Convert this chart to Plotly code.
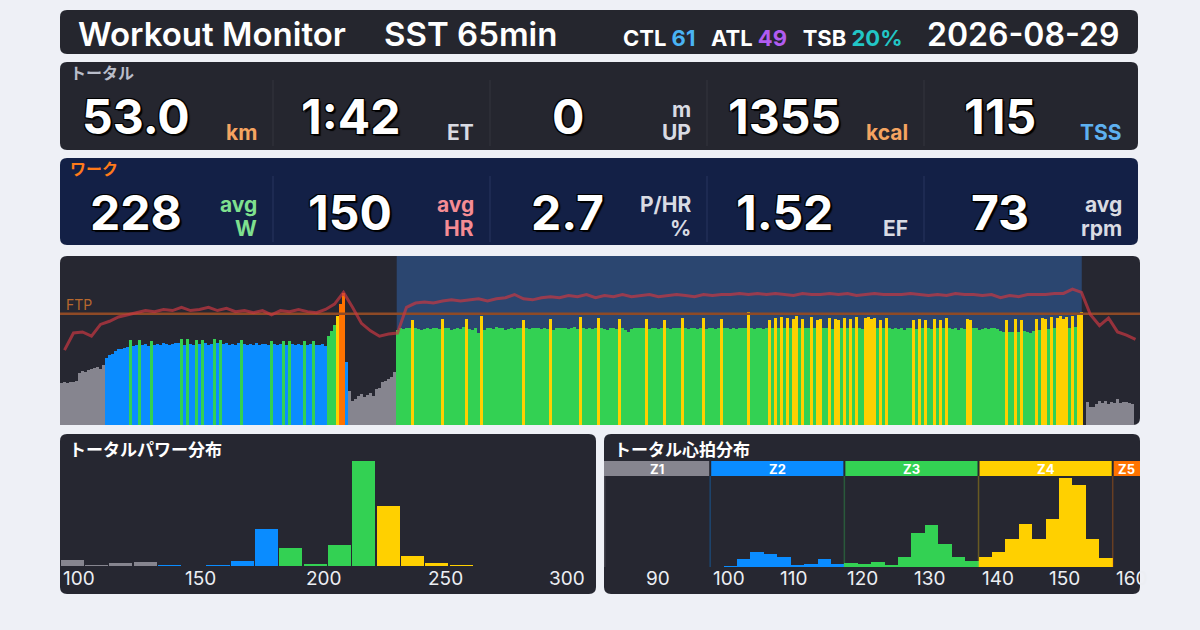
import numpy as np
import plotly.graph_objects as go

W, H = 1200, 630

# ---- header / summary numbers ----
title_left = "Workout Monitor"
title_right = "SST 65min"
ride_date = "2026-08-29"
ctl, atl, tsb = "61", "49", "20%"

total_values = ["53.0", "1:42", "0", "1355", "115"]
total_units_top = ["", "", "m", "", ""]
total_units_bottom = ["km", "ET", "UP", "kcal", "TSS"]
total_unit_colors = ["#f5a461", "#d9dbe3", "#d9dbe3", "#f5a461", "#5eb0f0"]

work_values = ["228", "150", "2.7", "1.52", "73"]
work_units_top = ["avg", "avg", "P/HR", "", "avg"]
work_units_bottom = ["W", "HR", "%", "EF", "rpm"]
work_unit_colors = ["#7fe08f", "#f58c94", "#d9dbe3", "#d9dbe3", "#d9dbe3"]

# ---- zones ----
zone_colors = ["#86858f", "#0a8cff", "#33d153", "#ffd000", "#ff7300"]
zone_names = ["Z1", "Z2", "Z3", "Z4", "Z5"]
power_zone_edges = [140, 188, 226, 263]
hr_zone_edges = [100, 120, 140, 160]
ftp = 250

# ---- power stream (W), one value per 17 s ----
power_warmup = [95, 96, 94, 97, 96, 99, 118, 121, 119, 123, 126, 128, 131, 127, 136]
power_z2 = [150, 158, 160, 166, 170, 172, 174, 176, 192, 178,
            180, 191, 179, 182, 178, 190, 181, 183, 180, 184,
            182, 179, 183, 184, 184, 193, 181, 194, 183, 180,
            192, 182, 191, 184, 181, 183, 193, 184, 192, 182,
            184, 180, 183, 181, 184, 191, 182, 179, 183, 181,
            184, 180, 182, 183, 181, 190, 183, 180, 182, 190,
            181, 189, 183, 180, 182, 181, 190, 179, 182, 189,
            181, 180, 182, 178]
power_ramp = [200, 212, 224, 245, 272, 296]
power_recovery = [142, 76, 54, 58, 66, 70, 64, 68, 72, 66, 80, 84, 96, 100, 104, 107, 120]
power_sst = [214, 218, 216, 219, 217, 236, 218, 215, 213, 216,
             218, 215, 217, 218, 216, 238, 219, 217, 214, 216,
             218, 215, 220, 238, 216, 213, 217, 206, 244, 214,
             219, 218, 216, 220, 217, 219, 214, 216, 218, 215,
             219, 217, 236, 218, 216, 218, 217, 219, 215, 218,
             216, 238, 214, 217, 219, 217, 218, 215, 218, 220,
             216, 242, 219, 216, 218, 215, 217, 240, 218, 216,
             214, 217, 219, 216, 238, 218, 213, 210, 216, 218,
             217, 218, 219, 238, 216, 218, 217, 215, 219, 236,
             218, 216, 219, 217, 219, 240, 218, 215, 217, 219,
             216, 218, 240, 215, 217, 219, 216, 218, 238, 217,
             219, 216, 218, 215, 217, 219, 218, 254, 218, 216,
             219, 217, 216, 218, 236, 217, 240, 219, 242, 218,
             240, 217, 238, 244, 219, 238, 217, 219, 242, 218,
             236, 238, 217, 219, 240, 216, 238, 236, 219, 240,
             217, 238, 219, 242, 218, 216, 240, 242, 238, 240,
             218, 236, 219, 240, 217, 215, 219, 216, 218, 214,
             217, 219, 236, 216, 238, 219, 236, 217, 215, 238,
             219, 236, 217, 240, 218, 216, 219, 214, 217, 215,
             238, 236, 219, 217, 214, 216, 218, 215, 217, 219,
             216, 212, 210, 236, 209, 208, 238, 210, 236, 212,
             209, 207, 212, 238, 214, 240, 238, 216, 242, 218,
             240, 244, 238, 242, 219, 246, 220, 248, 254]
power_cooldown = [0, 52, 40, 41, 47, 55, 50, 53, 48, 51, 49, 58, 50, 51, 52, 50, 47, 0, 0]

# heart rate (bpm), one value per 51 s
heart_rate = [100, 116, 117, 113, 124, 127, 131, 133, 135, 137,
              136, 138, 137, 140, 137, 138, 140, 137, 139, 136,
              137, 135, 137, 133, 137, 136, 138, 136, 135, 138,
              143, 154, 140, 125, 118, 113, 115, 116, 140, 144,
              145, 144, 146, 147, 146, 147, 148, 146, 148, 149,
              152, 148, 147, 149, 150, 149, 151, 150, 152, 149,
              151, 150, 152, 150, 151, 152, 150, 151, 152, 151,
              150, 152, 151, 152, 152, 153, 152, 153, 152, 153,
              152, 151, 153, 152, 152, 153, 152, 153, 151, 152,
              153, 152, 152, 152, 153, 152, 151, 152, 151, 153,
              152, 152, 151, 152, 149, 151, 150, 152, 152, 152,
              153, 153, 157, 154, 133, 123, 130, 117, 114, 110]

work_start, work_end = 31.8, 96.5   # minutes
ride_minutes = 102

# ---- distributions (minutes per bin) ----
power_bins = [100, 110, 120, 130, 140, 150, 160, 170, 180, 190, 200, 210, 220, 230, 240, 250, 260]
power_minutes = [1.4, 0.15, 0.65, 0.9, 0.15, 0, 0.15, 1.15, 8.8, 4.35, 0.4, 5.1, 25.0, 14.4, 2.4, 0.65, 0.15]
power_ticks = [100, 150, 200, 250, 300]

hr_bins = list(range(102, 160, 2))
hr_minutes = [0.1, 1.15, 2.2, 1.9, 1.45, 0.25, 0.4, 1.15, 0.4,
              0.55, 0.4, 0.7, 0.25, 1.45, 4.9, 6.1, 3.4, 1.45, 0.85,
              1.45, 2.2, 4.0, 6.25, 4.0, 7.0, 12.85, 11.85, 4.0, 1.3]
hr_ticks = [90, 100, 110, 120, 130, 140, 150, 160]
hr_axis_range = [84.17, 164.07]


def fx(px):
    return px / W


def fy(py):
    return 1 - py / H


def zcol(v, edges):
    return zone_colors[int(np.searchsorted(edges, v, side="right"))]


def rounded(x0, y0, x1, y1, color, r=7):
    rx, ry = r / W, r / H
    X0, X1, Y0, Y1 = fx(x0), fx(x1), fy(y0), fy(y1)
    p = (f"M {X0+rx},{Y0} L {X1-rx},{Y0} Q {X1},{Y0} {X1},{Y0-ry} "
         f"L {X1},{Y1+ry} Q {X1},{Y1} {X1-rx},{Y1} L {X0+rx},{Y1} "
         f"Q {X0},{Y1} {X0},{Y1+ry} L {X0},{Y0-ry} Q {X0},{Y0} {X0+rx},{Y0} Z")
    return dict(type="path", path=p, xref="paper", yref="paper", fillcolor=color,
                line=dict(width=0), layer="below")


power = power_warmup + power_z2 + power_ramp + power_recovery + power_sst + power_cooldown
step = ride_minutes / len(power)
power_t = (np.arange(len(power)) + 0.5) * step
hr_step = ride_minutes / len(heart_rate)
hr_t = (np.arange(len(heart_rate)) + 0.5) * hr_step

fig = go.Figure()

# main power stream
fig.add_trace(go.Bar(x=power_t, y=power, width=step,
                     marker=dict(color=[zcol(v, power_zone_edges) for v in power], line=dict(width=0)),
                     xaxis="x", yaxis="y", hoverinfo="skip"))
fig.add_trace(go.Scatter(x=[0, ride_minutes], y=[ftp, ftp], mode="lines",
                         line=dict(color="#8e4a26", width=2.5), xaxis="x", yaxis="y", hoverinfo="skip"))
fig.add_trace(go.Scatter(x=hr_t, y=heart_rate, mode="lines",
                         line=dict(color="rgba(200,55,65,0.7)", width=3),
                         xaxis="x", yaxis="y2", hoverinfo="skip"))

# power distribution
fig.add_trace(go.Bar(x=[b + 5 for b in power_bins], y=power_minutes, width=9.5,
                     marker=dict(color=[zcol(b, power_zone_edges) for b in power_bins], line=dict(width=0)),
                     xaxis="x3", yaxis="y3", hoverinfo="skip"))

# heart-rate distribution
fig.add_trace(go.Bar(x=[b + 1 for b in hr_bins], y=hr_minutes, width=2,
                     marker=dict(color=[zcol(b, hr_zone_edges) for b in hr_bins], line=dict(width=0)),
                     xaxis="x4", yaxis="y4", hoverinfo="skip"))

shapes = [
    rounded(60, 10, 1138, 54, "#25262e"),
    rounded(60, 62, 1138, 150, "#25262f"),
    rounded(60, 158, 1138, 245, "#132046"),
    rounded(60, 256, 1140, 425, "#262731"),
    rounded(60, 434, 596, 594, "#262731"),
    rounded(604, 434, 1140, 594, "#262731"),
    dict(type="rect", xref="x", yref="paper", x0=work_start, x1=work_end,
         y0=fy(425), y1=fy(256), fillcolor="#2b4670", line=dict(width=0), layer="below"),
]

cells = [60, 273, 490, 707, 924, 1138]
for xd in cells[1:-1]:
    shapes.append(dict(type="line", xref="paper", yref="paper", x0=fx(xd), x1=fx(xd),
                       y0=fy(80), y1=fy(146), line=dict(color="#34353f", width=1)))
    shapes.append(dict(type="line", xref="paper", yref="paper", x0=fx(xd), x1=fx(xd),
                       y0=fy(176), y1=fy(242), line=dict(color="#28345e", width=1)))

# HR zone band
hr_zone_lo = [hr_axis_range[0]] + hr_zone_edges
hr_zone_hi = hr_zone_edges + [hr_axis_range[1]]
for i in range(5):
    shapes.append(dict(type="rect", xref="x4", yref="paper",
                       x0=hr_zone_lo[i] + (0.15 if i > 0 else 0), x1=hr_zone_hi[i] - (0.15 if i < 4 else 0),
                       y0=fy(476), y1=fy(461), fillcolor=zone_colors[i], line=dict(width=0)))
    shapes.append(dict(type="line", xref="x4", yref="paper",
                       x0=hr_zone_lo[i] + (0.1 if i == 0 else 0), x1=hr_zone_lo[i] + (0.1 if i == 0 else 0),
                       y0=fy(567), y1=fy(476), line=dict(color=zone_colors[i], width=1.5),
                       opacity=0.3))

ann = []
white = "#ffffff"
jp = "Noto Sans CJK JP"
num_font = "Inter"
outline = "2px 2px 1px #000, -1px -1px 0 #000, 1px -1px 0 #000, -1px 1px 0 #000, 0 0 2px #000"


def text(px, py, s, size, color=white, anchor="left", weight=700, family=num_font, shadow=None, yanchor="middle"):
    f = dict(family=family, size=size, color=color, weight=weight)
    if shadow:
        f["shadow"] = shadow
    ann.append(dict(x=fx(px), y=fy(py), xref="paper", yref="paper", text=s, showarrow=False,
                    xanchor=anchor, yanchor=yanchor, font=f))


# header
text(76, 34, title_left, 33, weight=600)
text(382, 34, title_right, 33, weight=600)
text(905, 38, (f"CTL <span style='color:#4ab3f4'>{ctl}</span>&nbsp;&nbsp;&nbsp;"
               f"ATL <span style='color:#b15cf0'>{atl}</span>&nbsp;&nbsp;&nbsp;"
               f"TSB <span style='color:#22c6c6'>{tsb}</span>"), 22, anchor="right")
text(1121, 34, ride_date, 32, anchor="right", weight=600)

# totals / work rows
text(68, 72, "トータル", 16, color="#b9bdca", family=jp)
text(68, 168, "ワーク", 16, color="#ff7a1a", family=jp)
for row_y, vals, tops, bots, cols in [
    (116, total_values, total_units_top, total_units_bottom, total_unit_colors),
    (212, work_values, work_units_top, work_units_bottom, work_unit_colors),
]:
    for i in range(5):
        c0, c1 = cells[i], cells[i + 1]
        text((c0 + c1) / 2 - 31, row_y, vals[i], 48, anchor="center", weight=700, shadow=outline)
        text(c1 - 14, row_y + 16, bots[i], 21, color=cols[i], anchor="right")
        if tops[i]:
            text(c1 - 14, row_y - 7, tops[i], 21, color=cols[i], anchor="right")

# main chart label
text(64, 304, "FTP", 14, color="#b8682e", weight=400)

# histogram titles & ticks
text(67, 448, "トータルパワー分布", 17, family=jp)
text(612, 448, "トータル心拍分布", 17, family=jp)
for t in power_ticks:
    ann.append(dict(x=t, y=fy(578), xref="x3", yref="paper", text=str(t), showarrow=False,
                    xanchor="left", yanchor="middle", xshift=1,
                    font=dict(family=num_font, size=19, color="#eceef3", weight=400)))
for t in hr_ticks:
    ann.append(dict(x=t, y=fy(578), xref="x4", yref="paper", text=str(t), showarrow=False,
                    xanchor="left", yanchor="middle", xshift=1,
                    font=dict(family=num_font, size=19, color="#eceef3", weight=400)))
for i in range(5):
    ann.append(dict(x=(hr_zone_lo[i] + hr_zone_hi[i]) / 2, y=fy(468.5), xref="x4", yref="paper",
                    text=zone_names[i], showarrow=False, xanchor="center", yanchor="middle",
                    font=dict(family=num_font, size=13, color=white, weight=700)))

hidden = dict(visible=False, showgrid=False, zeroline=False, fixedrange=True)
fig.update_layout(
    width=W, height=H,
    margin=dict(l=0, r=0, t=0, b=0),
    paper_bgcolor="#eef0f6",
    plot_bgcolor="rgba(0,0,0,0)",
    showlegend=False,
    bargap=0,
    xaxis=dict(hidden, domain=[fx(60), fx(1140)], range=[0, ride_minutes], anchor="y"),
    yaxis=dict(hidden, domain=[fy(425), fy(256)], range=[0, 380], anchor="x"),
    yaxis2=dict(hidden, overlaying="y", range=[30, 188], anchor="x"),
    xaxis3=dict(hidden, domain=[fx(60), fx(596)], range=[100, 320.5], anchor="y3"),
    yaxis3=dict(hidden, domain=[fy(566), fy(456)], range=[0, 26.2], anchor="x3"),
    xaxis4=dict(hidden, domain=[fx(604), fx(1140)], range=hr_axis_range, anchor="y4"),
    yaxis4=dict(hidden, domain=[fy(567), fy(476)], range=[0, 13.2], anchor="x4"),
    shapes=shapes,
    annotations=ann,
)

fig.write_html("out.html", config={"displayModeBar": False},
               post_script="document.body.style.margin='0';document.body.style.background='#eef0f6';")
